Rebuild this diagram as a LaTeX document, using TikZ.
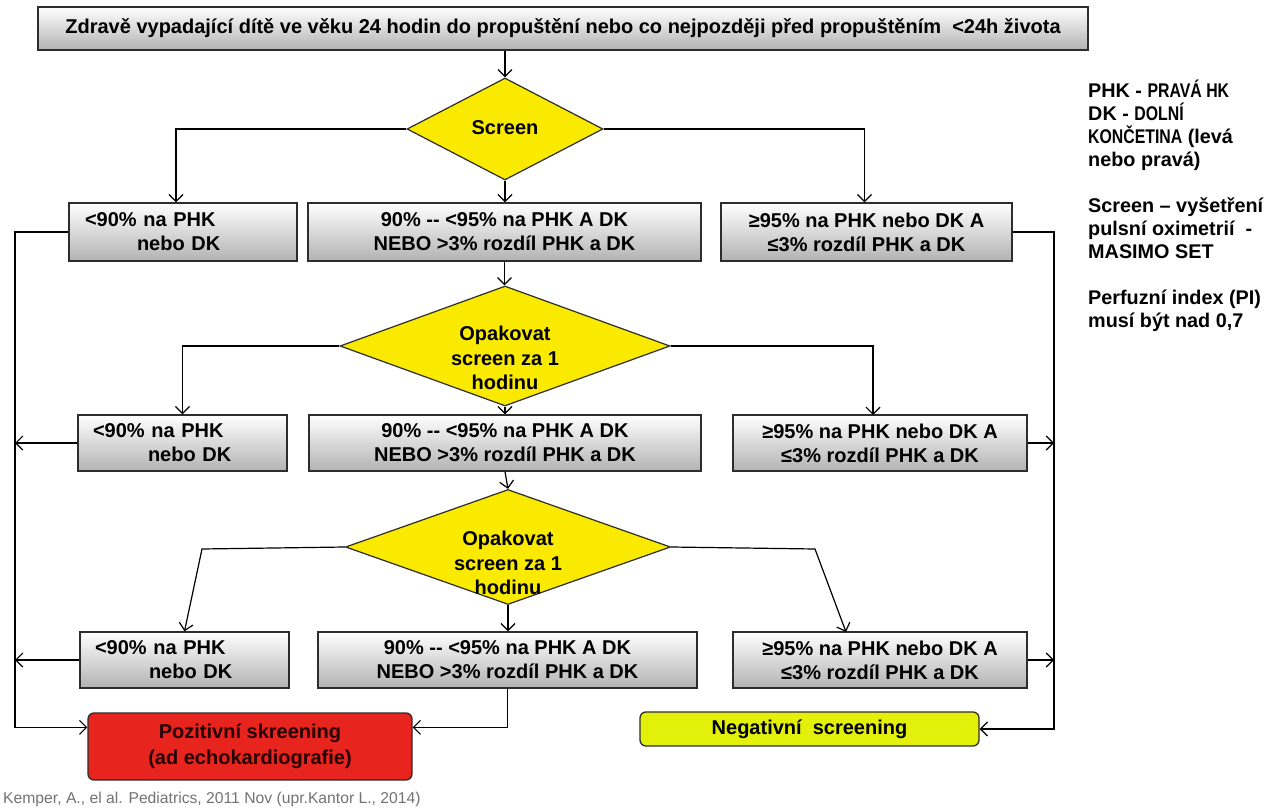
\documentclass[tikz,border=0pt]{standalone}
\usepackage{fontspec}
\setmainfont{Liberation Sans}
\newfontfamily\narrowsans[FakeStretch=0.8]{Liberation Sans}
\usetikzlibrary{shapes.geometric,arrows.meta,calc}
\definecolor{dyellow}{RGB}{250,234,0}
\definecolor{redbox}{RGB}{232,36,30}
\definecolor{negbox}{RGB}{226,240,10}
\definecolor{edge}{RGB}{45,45,45}
\tikzset{
  gbox/.style={draw=edge, line width=1.4pt, top color=white, bottom color=black!30,
    inner sep=0pt, font=\bfseries\fontsize{20}{24}\selectfont, align=center},
  lbox/.style={gbox, align=left},
  dia/.style={diamond, draw=edge, line width=1.2pt, fill=dyellow, inner sep=0pt},
  dtext/.style={font=\bfseries\fontsize{20}{24.5}\selectfont, align=center, inner sep=0pt},
  arr/.style={-{Straight Barb[length=7pt,width=14pt]}, line width=1.2pt},
  endbox/.style={draw=edge, line width=1.3pt, rounded corners=6pt, inner sep=0pt,
    font=\bfseries\fontsize{20}{26}\selectfont, align=center},
}
\begin{document}
\begin{tikzpicture}[x=1pt,y=-1pt]
\path[fill=white] (0,0) rectangle (1279,810);
% top
\node[gbox, minimum width=1050pt, minimum height=43pt] (T) at (563,28.5)
  {Zdravě vypadající dítě ve věku 24 hodin do propuštění nebo co nejpozději před propuštěním \ <24h života};
% diamonds
\node[dia, minimum width=196pt, minimum height=102pt] (D1) at (505,129) {};
\node[dtext] (D1t) at (505,128) {Screen};
\node[dia, minimum width=330pt, minimum height=120pt] (D2) at (505,346) {};
\node[dtext] (D2t) at (505,358) {Opakovat\\screen za 1\\hodinu};
\node[dia, minimum width=325pt, minimum height=115pt] (D3) at (508,547) {};
\node[dtext] (D3t) at (508,563) {Opakovat\\screen za 1\\hodinu};
% row 1
\node[lbox, minimum width=228pt, minimum height=58pt, text width=196pt] (L1) at (183,232)
  {<90\% na PHK\\\hspace*{52pt}nebo DK};
\node[gbox, minimum width=393pt, minimum height=58pt] (M1) at (504.5,232)
  {90\% -{}- <95\% na PHK A DK\\NEBO >3\% rozdíl PHK a DK};
\node[gbox, minimum width=291pt, minimum height=58pt] (R1) at (866.5,232)
  {≥95\% na PHK nebo DK A\\≤3\% rozdíl PHK a DK};
% row 2
\node[lbox, minimum width=209pt, minimum height=56pt, text width=179pt] (L2) at (182.5,443)
  {<90\% na PHK\\\hspace*{55pt}nebo DK};
\node[gbox, minimum width=392pt, minimum height=56pt] (M2) at (505,443)
  {90\% -{}- <95\% na PHK A DK\\NEBO >3\% rozdíl PHK a DK};
\node[gbox, minimum width=294pt, minimum height=56pt] (R2) at (880,443)
  {≥95\% na PHK nebo DK A\\≤3\% rozdíl PHK a DK};
% row 3
\node[lbox, minimum width=209pt, minimum height=56pt, text width=179pt] (L3) at (184.5,660)
  {<90\% na PHK\\\hspace*{54pt}nebo DK};
\node[gbox, minimum width=379pt, minimum height=56pt] (M3) at (507.5,660)
  {90\% -{}- <95\% na PHK A DK\\NEBO >3\% rozdíl PHK a DK};
\node[gbox, minimum width=294pt, minimum height=56pt] (R3) at (880,660)
  {≥95\% na PHK nebo DK A\\≤3\% rozdíl PHK a DK};
% end boxes
\node[endbox, fill=redbox, text=black!85!red, minimum width=324pt, minimum height=67pt] (P) at (250,746.5)
  {Pozitivní skreening\\(ad echokardiografie)};
\node[endbox, fill=negbox, minimum width=339pt, minimum height=34pt] (N) at (809.5,729)
  {Negativní \ screening};
% side notes
\node[anchor=north west, align=left, inner sep=0pt, font=\bfseries\fontsize{19.8}{23}\selectfont] (S) at (1088,80)
  {PHK - {\narrowsans PRAVÁ HK}\\DK - {\narrowsans DOLNÍ}\\{\narrowsans KONČETINA} (levá\\nebo pravá)\\[23pt]
   Screen – vyšetření\\pulsní oximetrií \ -\\MASIMO SET\\[23pt]
   Perfuzní index (PI)\\musí být nad 0,7};
\node[anchor=base west, inner sep=0pt, text=black!55, font=\fontsize{15.7}{18}\selectfont] (C) at (3,803)
  {Kemper, A., el al. Pediatrics, 2011 Nov (upr.Kantor L., 2014)};
% coordinates
\coordinate (xl) at (15,0);
\coordinate (xr) at (1054,0);
\coordinate (b3l) at (202,549);
\coordinate (b3r) at (815,549);
\coordinate (r3in) at (846,632);
\coordinate (r2in) at (873,415);
\coordinate (pin) at ($(P.north west)+(0,15)$);
\coordinate (pinr) at ($(P.north east)+(0,15)$);
% connectors
\draw[arr] (D1.north |- T.south) -- (D1.north);
\draw[arr] (D1.west) -| ($(L1.north)+(-7,0)$);
\draw[arr] (D1.east) -| ($(R1.north)+(-2,0)$);
\draw[arr] (D1.south) -- (D1.south |- M1.north);
\draw[arr] (M1.south) -- (M1.south |- D2.north);
\draw[arr] (D2.west) -| (L2.north);
\draw[arr] (D2.east) -| (r2in);
\draw[arr] (D2.south) -- (D2.south |- M2.north);
\draw[arr] (M2.south) -- (D3.north);
\draw[arr] (D3.west) -- (b3l) -- (L3.north);
\draw[arr] (D3.east) -- (b3r) -- (r3in);
\draw[arr] (D3.south) -- (D3.south |- M3.north);
\draw[arr] (L1.west) -- (L1.west -| xl) -- (pin -| xl) -- (pin);
\draw[arr] (L2.west) -- (L2.west -| xl);
\draw[arr] (L3.west) -- (L3.west -| xl);
\draw[arr] (R1.east) -- (R1.east -| xr) -- (N.east -| xr) -- (N.east);
\draw[arr] (R2.east) -- (R2.east -| xr);
\draw[arr] (R3.east) -- (R3.east -| xr);
\draw[arr] (M3.south) |- (pinr);
\end{tikzpicture}
\end{document}
